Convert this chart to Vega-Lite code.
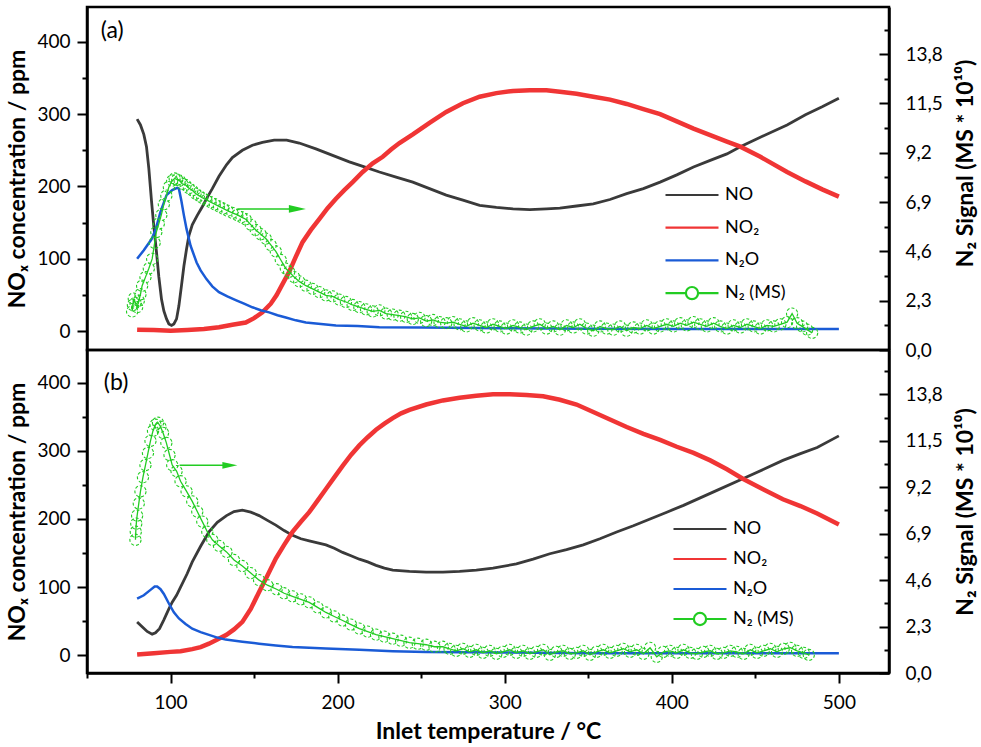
{
  "$schema": "https://vega.github.io/schema/vega-lite/v6.json",
  "padding": {"left": 5, "top": 5, "right": 5, "bottom": 5},
  "spacing": 0,
  "bounds": "flush",
  "config": {
    "font": "Lato",
    "view": {"stroke": "black", "strokeWidth": 2.5},
    "axis": {"grid": false, "domainColor": "black", "domainWidth": 2.5, "tickColor": "black", "tickWidth": 2, "labelFont": "Lato", "labelFontSize": 19, "labelColor": "black", "titleFont": "Lato", "titleFontSize": 23, "titleFontWeight": "bold", "titleColor": "black"}
  },
  "resolve": {"scale": {"color": "independent"}, "legend": {"color": "independent"}},
  "datasets": {
    "topLines": [
      {"T":80,"v":293,"s":"NO"},{"T":82,"v":285,"s":"NO"},{"T":84,"v":272,"s":"NO"},{"T":85.6,"v":255,"s":"NO"},{"T":87,"v":225,"s":"NO"},{"T":88.6,"v":180,"s":"NO"},{"T":90,"v":145,"s":"NO"},{"T":91.6,"v":109,"s":"NO"},{"T":93,"v":75,"s":"NO"},{"T":94.6,"v":44,"s":"NO"},{"T":96,"v":28,"s":"NO"},{"T":97.6,"v":17,"s":"NO"},{"T":99,"v":10,"s":"NO"},{"T":100.6,"v":8,"s":"NO"},{"T":102,"v":10,"s":"NO"},{"T":103.6,"v":17,"s":"NO"},{"T":105,"v":35,"s":"NO"},{"T":106.6,"v":64,"s":"NO"},{"T":108,"v":90,"s":"NO"},{"T":109.6,"v":114,"s":"NO"},{"T":111,"v":132,"s":"NO"},{"T":113,"v":147,"s":"NO"},{"T":116,"v":160,"s":"NO"},{"T":119,"v":172,"s":"NO"},{"T":122,"v":185,"s":"NO"},{"T":125,"v":197,"s":"NO"},{"T":129,"v":214,"s":"NO"},{"T":133.5,"v":230,"s":"NO"},{"T":137,"v":240,"s":"NO"},{"T":143,"v":250,"s":"NO"},{"T":149,"v":257,"s":"NO"},{"T":155,"v":261,"s":"NO"},{"T":162,"v":264,"s":"NO"},{"T":169.5,"v":264,"s":"NO"},{"T":177,"v":260,"s":"NO"},{"T":187,"v":252,"s":"NO"},{"T":197,"v":243,"s":"NO"},{"T":207,"v":234,"s":"NO"},{"T":216,"v":227,"s":"NO"},{"T":225,"v":220,"s":"NO"},{"T":235,"v":213,"s":"NO"},{"T":245,"v":206,"s":"NO"},{"T":255,"v":197,"s":"NO"},{"T":265,"v":188,"s":"NO"},{"T":275,"v":181,"s":"NO"},{"T":285,"v":174,"s":"NO"},{"T":295,"v":171,"s":"NO"},{"T":305,"v":169,"s":"NO"},{"T":315,"v":168,"s":"NO"},{"T":325,"v":169,"s":"NO"},{"T":333,"v":170,"s":"NO"},{"T":343,"v":173,"s":"NO"},{"T":353,"v":176,"s":"NO"},{"T":363,"v":182,"s":"NO"},{"T":373,"v":190,"s":"NO"},{"T":383,"v":197,"s":"NO"},{"T":393,"v":206,"s":"NO"},{"T":403,"v":216,"s":"NO"},{"T":413,"v":227,"s":"NO"},{"T":423,"v":236,"s":"NO"},{"T":433,"v":245,"s":"NO"},{"T":441,"v":255,"s":"NO"},{"T":453,"v":268,"s":"NO"},{"T":469,"v":285,"s":"NO"},{"T":480,"v":299,"s":"NO"},{"T":490,"v":310,"s":"NO"},{"T":500,"v":322,"s":"NO"},
      {"T":80,"v":2,"s":"NO₂"},{"T":90,"v":1.5,"s":"NO₂"},{"T":100,"v":0.5,"s":"NO₂"},{"T":110,"v":1.5,"s":"NO₂"},{"T":120,"v":3,"s":"NO₂"},{"T":129,"v":5.5,"s":"NO₂"},{"T":137,"v":9,"s":"NO₂"},{"T":145,"v":12,"s":"NO₂"},{"T":150,"v":18,"s":"NO₂"},{"T":155,"v":26,"s":"NO₂"},{"T":160,"v":38,"s":"NO₂"},{"T":163.5,"v":50,"s":"NO₂"},{"T":167,"v":65,"s":"NO₂"},{"T":171,"v":82,"s":"NO₂"},{"T":175,"v":103,"s":"NO₂"},{"T":179,"v":123,"s":"NO₂"},{"T":184,"v":140,"s":"NO₂"},{"T":189,"v":155,"s":"NO₂"},{"T":194,"v":170,"s":"NO₂"},{"T":199,"v":183,"s":"NO₂"},{"T":204,"v":195,"s":"NO₂"},{"T":209,"v":206,"s":"NO₂"},{"T":215,"v":220,"s":"NO₂"},{"T":221,"v":232,"s":"NO₂"},{"T":227,"v":241,"s":"NO₂"},{"T":232,"v":251,"s":"NO₂"},{"T":237,"v":260,"s":"NO₂"},{"T":245,"v":272,"s":"NO₂"},{"T":255,"v":288,"s":"NO₂"},{"T":265,"v":303,"s":"NO₂"},{"T":275,"v":315,"s":"NO₂"},{"T":285,"v":324,"s":"NO₂"},{"T":295,"v":329,"s":"NO₂"},{"T":305,"v":332,"s":"NO₂"},{"T":315,"v":333,"s":"NO₂"},{"T":325,"v":333,"s":"NO₂"},{"T":333,"v":331,"s":"NO₂"},{"T":343,"v":328,"s":"NO₂"},{"T":353,"v":324,"s":"NO₂"},{"T":363,"v":320,"s":"NO₂"},{"T":373,"v":314,"s":"NO₂"},{"T":383,"v":307,"s":"NO₂"},{"T":393,"v":300,"s":"NO₂"},{"T":403,"v":290,"s":"NO₂"},{"T":413,"v":280,"s":"NO₂"},{"T":423,"v":271,"s":"NO₂"},{"T":433,"v":262,"s":"NO₂"},{"T":441,"v":255,"s":"NO₂"},{"T":453,"v":241,"s":"NO₂"},{"T":469,"v":220,"s":"NO₂"},{"T":480,"v":207,"s":"NO₂"},{"T":490,"v":196,"s":"NO₂"},{"T":500,"v":186,"s":"NO₂"},
      {"T":80,"v":100,"s":"N₂O"},{"T":84,"v":112,"s":"N₂O"},{"T":88.6,"v":127,"s":"N₂O"},{"T":91,"v":140,"s":"N₂O"},{"T":94,"v":165,"s":"N₂O"},{"T":97.6,"v":188,"s":"N₂O"},{"T":101,"v":195,"s":"N₂O"},{"T":104,"v":198,"s":"N₂O"},{"T":105,"v":197,"s":"N₂O"},{"T":106.5,"v":180,"s":"N₂O"},{"T":108,"v":160,"s":"N₂O"},{"T":109.6,"v":141,"s":"N₂O"},{"T":112,"v":118,"s":"N₂O"},{"T":115.6,"v":95,"s":"N₂O"},{"T":118,"v":84,"s":"N₂O"},{"T":121.5,"v":72,"s":"N₂O"},{"T":125,"v":62,"s":"N₂O"},{"T":129,"v":54,"s":"N₂O"},{"T":134,"v":48,"s":"N₂O"},{"T":139,"v":43,"s":"N₂O"},{"T":144,"v":38,"s":"N₂O"},{"T":149,"v":33,"s":"N₂O"},{"T":154,"v":29,"s":"N₂O"},{"T":159,"v":26,"s":"N₂O"},{"T":164,"v":22,"s":"N₂O"},{"T":169,"v":19,"s":"N₂O"},{"T":175,"v":15,"s":"N₂O"},{"T":181,"v":12,"s":"N₂O"},{"T":190,"v":10,"s":"N₂O"},{"T":199,"v":8,"s":"N₂O"},{"T":212,"v":7,"s":"N₂O"},{"T":225,"v":5.5,"s":"N₂O"},{"T":250,"v":5,"s":"N₂O"},{"T":300,"v":4,"s":"N₂O"},{"T":350,"v":3.5,"s":"N₂O"},{"T":400,"v":3,"s":"N₂O"},{"T":450,"v":3,"s":"N₂O"},{"T":500,"v":3,"s":"N₂O"}
    ],
    "topN2": [
      {"T":77,"v":1.8},{"T":77.5,"v":2.1},{"T":78,"v":2.4},{"T":79,"v":2.2},{"T":80,"v":2.0},{"T":81,"v":2.3},{"T":82,"v":2.6},{"T":83,"v":3.0},{"T":85,"v":3.4},{"T":87,"v":3.8},{"T":89,"v":4.25},{"T":90.5,"v":5.0},{"T":91.5,"v":5.5},{"T":93,"v":5.9},{"T":94.5,"v":6.3},{"T":96,"v":6.8},{"T":97.5,"v":7.2},{"T":99,"v":7.6},{"T":101,"v":7.9},{"T":102.5,"v":8.0},{"T":104,"v":7.95},{"T":105.5,"v":7.9},{"T":107,"v":7.75},{"T":109,"v":7.7},{"T":111,"v":7.55},{"T":113,"v":7.45},{"T":115,"v":7.3},{"T":117,"v":7.2},{"T":119,"v":7.1},{"T":121.5,"v":7.0},{"T":124,"v":6.9},{"T":126.5,"v":6.8},{"T":129,"v":6.7},{"T":131.5,"v":6.6},{"T":134,"v":6.5},{"T":137,"v":6.4},{"T":140,"v":6.3},{"T":142.5,"v":6.2},{"T":145,"v":6.1},{"T":148,"v":5.85},{"T":151,"v":5.6},{"T":154,"v":5.4},{"T":157,"v":5.2},{"T":160,"v":4.9},{"T":163,"v":4.6},{"T":166,"v":4.2},{"T":169,"v":3.8},{"T":171,"v":3.65},{"T":174,"v":3.4},{"T":177,"v":3.2},{"T":181,"v":3.0},{"T":185,"v":2.85},{"T":189,"v":2.7},{"T":193,"v":2.55},{"T":197,"v":2.5},{"T":201,"v":2.35},{"T":205,"v":2.24},{"T":209,"v":2.1},{"T":213,"v":2.0},{"T":217,"v":1.9},{"T":221,"v":1.8},{"T":225,"v":1.85},{"T":229,"v":1.7},{"T":233,"v":1.65},{"T":237,"v":1.6},{"T":241,"v":1.55},{"T":245,"v":1.45},{"T":249,"v":1.5},{"T":253,"v":1.35},{"T":257,"v":1.4},{"T":261,"v":1.3},{"T":265,"v":1.25},{"T":269,"v":1.3},{"T":273,"v":1.2},{"T":277,"v":1.1},{"T":281,"v":1.25},{"T":285,"v":1.15},{"T":289,"v":1.05},{"T":293,"v":1.2},{"T":297,"v":1.1},{"T":301,"v":1.0},{"T":305,"v":1.15},{"T":309,"v":1.05},{"T":313,"v":0.95},{"T":317,"v":1.1},{"T":321,"v":1.2},{"T":325,"v":1.0},{"T":329,"v":1.1},{"T":333,"v":0.95},{"T":337,"v":1.15},{"T":341,"v":1.05},{"T":345,"v":1.2},{"T":349,"v":1.0},{"T":353,"v":0.9},{"T":357,"v":1.1},{"T":361,"v":1.0},{"T":365,"v":0.95},{"T":369,"v":1.1},{"T":373,"v":0.9},{"T":377,"v":1.05},{"T":381,"v":1.0},{"T":385,"v":1.15},{"T":389,"v":1.0},{"T":393,"v":1.1},{"T":397,"v":1.2},{"T":401,"v":1.1},{"T":405,"v":1.25},{"T":409,"v":1.15},{"T":413,"v":1.3},{"T":417,"v":1.2},{"T":421,"v":1.1},{"T":425,"v":1.25},{"T":429,"v":1.1},{"T":433,"v":1.0},{"T":437,"v":1.15},{"T":441,"v":1.05},{"T":445,"v":1.2},{"T":449,"v":1.1},{"T":453,"v":1.0},{"T":457,"v":1.15},{"T":461,"v":1.1},{"T":465,"v":1.2},{"T":469,"v":1.3},{"T":472,"v":1.7},{"T":475,"v":1.25},{"T":478,"v":1.1},{"T":481,"v":0.95},{"T":484,"v":0.8}
    ],
    "botLines": [
      {"T":80,"v":49,"s":"NO"},{"T":83,"v":42,"s":"NO"},{"T":86,"v":35,"s":"NO"},{"T":89,"v":31,"s":"NO"},{"T":91,"v":33,"s":"NO"},{"T":93.4,"v":39,"s":"NO"},{"T":96,"v":52,"s":"NO"},{"T":99,"v":68,"s":"NO"},{"T":101,"v":78,"s":"NO"},{"T":103.6,"v":88,"s":"NO"},{"T":106,"v":100,"s":"NO"},{"T":110,"v":120,"s":"NO"},{"T":113,"v":137,"s":"NO"},{"T":118,"v":160,"s":"NO"},{"T":123,"v":181,"s":"NO"},{"T":128,"v":195,"s":"NO"},{"T":133.5,"v":205,"s":"NO"},{"T":138,"v":211,"s":"NO"},{"T":143,"v":213,"s":"NO"},{"T":148,"v":210,"s":"NO"},{"T":153,"v":205,"s":"NO"},{"T":158,"v":198,"s":"NO"},{"T":163,"v":191,"s":"NO"},{"T":168,"v":183,"s":"NO"},{"T":173,"v":176,"s":"NO"},{"T":178,"v":171,"s":"NO"},{"T":183,"v":168,"s":"NO"},{"T":188,"v":165,"s":"NO"},{"T":193,"v":162,"s":"NO"},{"T":198,"v":157,"s":"NO"},{"T":203,"v":151,"s":"NO"},{"T":208,"v":146,"s":"NO"},{"T":213,"v":141,"s":"NO"},{"T":218,"v":137,"s":"NO"},{"T":223,"v":132,"s":"NO"},{"T":228,"v":128,"s":"NO"},{"T":233,"v":125,"s":"NO"},{"T":243,"v":123,"s":"NO"},{"T":253,"v":122,"s":"NO"},{"T":263,"v":122,"s":"NO"},{"T":273,"v":123,"s":"NO"},{"T":283,"v":125,"s":"NO"},{"T":293,"v":128,"s":"NO"},{"T":307,"v":134,"s":"NO"},{"T":317,"v":141,"s":"NO"},{"T":327,"v":149,"s":"NO"},{"T":337,"v":155,"s":"NO"},{"T":347,"v":162,"s":"NO"},{"T":357,"v":171,"s":"NO"},{"T":367,"v":181,"s":"NO"},{"T":377,"v":190,"s":"NO"},{"T":387,"v":200,"s":"NO"},{"T":397,"v":210,"s":"NO"},{"T":407,"v":220,"s":"NO"},{"T":417,"v":231,"s":"NO"},{"T":427,"v":242,"s":"NO"},{"T":442.5,"v":259,"s":"NO"},{"T":455,"v":273,"s":"NO"},{"T":466.5,"v":286,"s":"NO"},{"T":477,"v":296,"s":"NO"},{"T":487,"v":305,"s":"NO"},{"T":500,"v":322,"s":"NO"},
      {"T":80,"v":1,"s":"NO₂"},{"T":90,"v":3,"s":"NO₂"},{"T":100,"v":5,"s":"NO₂"},{"T":106,"v":6,"s":"NO₂"},{"T":113,"v":9,"s":"NO₂"},{"T":118,"v":12,"s":"NO₂"},{"T":123,"v":17,"s":"NO₂"},{"T":128,"v":23,"s":"NO₂"},{"T":133.5,"v":30,"s":"NO₂"},{"T":138,"v":38,"s":"NO₂"},{"T":143,"v":49,"s":"NO₂"},{"T":148,"v":68,"s":"NO₂"},{"T":153,"v":93,"s":"NO₂"},{"T":158,"v":117,"s":"NO₂"},{"T":163,"v":142,"s":"NO₂"},{"T":168,"v":162,"s":"NO₂"},{"T":173,"v":181,"s":"NO₂"},{"T":178,"v":196,"s":"NO₂"},{"T":183,"v":210,"s":"NO₂"},{"T":188,"v":227,"s":"NO₂"},{"T":193,"v":244,"s":"NO₂"},{"T":198,"v":261,"s":"NO₂"},{"T":203,"v":278,"s":"NO₂"},{"T":208,"v":294,"s":"NO₂"},{"T":213,"v":308,"s":"NO₂"},{"T":218,"v":320,"s":"NO₂"},{"T":223,"v":331,"s":"NO₂"},{"T":228,"v":340,"s":"NO₂"},{"T":233,"v":348,"s":"NO₂"},{"T":238,"v":355,"s":"NO₂"},{"T":243,"v":360,"s":"NO₂"},{"T":253,"v":368,"s":"NO₂"},{"T":263,"v":374,"s":"NO₂"},{"T":273,"v":378,"s":"NO₂"},{"T":283,"v":381,"s":"NO₂"},{"T":293,"v":383,"s":"NO₂"},{"T":303,"v":383,"s":"NO₂"},{"T":313,"v":382,"s":"NO₂"},{"T":323,"v":380,"s":"NO₂"},{"T":333,"v":375,"s":"NO₂"},{"T":343,"v":368,"s":"NO₂"},{"T":353,"v":357,"s":"NO₂"},{"T":363,"v":346,"s":"NO₂"},{"T":373,"v":335,"s":"NO₂"},{"T":383,"v":325,"s":"NO₂"},{"T":393,"v":316,"s":"NO₂"},{"T":403,"v":306,"s":"NO₂"},{"T":413,"v":297,"s":"NO₂"},{"T":423,"v":286,"s":"NO₂"},{"T":433,"v":273,"s":"NO₂"},{"T":442.5,"v":259,"s":"NO₂"},{"T":452,"v":247,"s":"NO₂"},{"T":466.5,"v":229,"s":"NO₂"},{"T":477,"v":219,"s":"NO₂"},{"T":487,"v":208,"s":"NO₂"},{"T":500,"v":192,"s":"NO₂"},
      {"T":80,"v":83,"s":"N₂O"},{"T":84,"v":88,"s":"N₂O"},{"T":88,"v":96,"s":"N₂O"},{"T":90.5,"v":101,"s":"N₂O"},{"T":92,"v":101,"s":"N₂O"},{"T":94,"v":97,"s":"N₂O"},{"T":96,"v":90,"s":"N₂O"},{"T":99,"v":76,"s":"N₂O"},{"T":102,"v":63,"s":"N₂O"},{"T":105,"v":54,"s":"N₂O"},{"T":109,"v":46,"s":"N₂O"},{"T":113,"v":39,"s":"N₂O"},{"T":118,"v":34,"s":"N₂O"},{"T":123,"v":30,"s":"N₂O"},{"T":128,"v":26,"s":"N₂O"},{"T":133,"v":23,"s":"N₂O"},{"T":143,"v":20,"s":"N₂O"},{"T":153,"v":17,"s":"N₂O"},{"T":163,"v":14.5,"s":"N₂O"},{"T":173,"v":12,"s":"N₂O"},{"T":193,"v":10,"s":"N₂O"},{"T":213,"v":8,"s":"N₂O"},{"T":233,"v":6,"s":"N₂O"},{"T":253,"v":5,"s":"N₂O"},{"T":300,"v":4,"s":"N₂O"},{"T":350,"v":3,"s":"N₂O"},{"T":400,"v":3,"s":"N₂O"},{"T":450,"v":3,"s":"N₂O"},{"T":500,"v":3,"s":"N₂O"}
    ],
    "botN2": [
      {"T":79,"v":6.6},{"T":79.2,"v":7.0},{"T":79.5,"v":7.4},{"T":80,"v":7.8},{"T":81,"v":8.4},{"T":82,"v":9.0},{"T":83.5,"v":9.7},{"T":85,"v":10.3},{"T":86.5,"v":10.9},{"T":88,"v":11.5},{"T":89.5,"v":12.0},{"T":91,"v":12.3},{"T":92.5,"v":12.4},{"T":94,"v":12.2},{"T":95.5,"v":11.9},{"T":97.5,"v":11.4},{"T":99.4,"v":10.8},{"T":101,"v":10.3},{"T":103.6,"v":10.0},{"T":106,"v":9.5},{"T":109.6,"v":9.0},{"T":113,"v":8.5},{"T":116,"v":8.0},{"T":119,"v":7.5},{"T":122,"v":7.0},{"T":125,"v":6.6},{"T":129,"v":6.3},{"T":133.5,"v":6.0},{"T":138,"v":5.6},{"T":143,"v":5.3},{"T":148,"v":4.95},{"T":153,"v":4.6},{"T":158,"v":4.35},{"T":163.5,"v":4.15},{"T":168,"v":3.95},{"T":173,"v":3.8},{"T":178,"v":3.65},{"T":183,"v":3.5},{"T":188,"v":3.25},{"T":193,"v":3.0},{"T":198,"v":2.8},{"T":203,"v":2.6},{"T":208,"v":2.4},{"T":213,"v":2.2},{"T":218,"v":2.05},{"T":223,"v":1.9},{"T":228,"v":1.8},{"T":233,"v":1.7},{"T":238,"v":1.6},{"T":243,"v":1.5},{"T":248,"v":1.45},{"T":253,"v":1.4},{"T":258,"v":1.3},{"T":263,"v":1.3},{"T":267,"v":1.2},{"T":271,"v":1.1},{"T":275,"v":1.2},{"T":279,"v":1.05},{"T":283,"v":1.15},{"T":287,"v":1.0},{"T":291,"v":1.1},{"T":295,"v":0.95},{"T":299,"v":1.05},{"T":303,"v":1.15},{"T":307,"v":1.0},{"T":311,"v":1.1},{"T":315,"v":0.95},{"T":319,"v":1.05},{"T":323,"v":1.15},{"T":327,"v":0.9},{"T":331,"v":1.05},{"T":335,"v":1.1},{"T":339,"v":0.95},{"T":343,"v":1.0},{"T":347,"v":1.1},{"T":351,"v":0.9},{"T":355,"v":1.05},{"T":359,"v":1.15},{"T":363,"v":1.0},{"T":367,"v":1.1},{"T":371,"v":1.2},{"T":375,"v":1.05},{"T":379,"v":1.15},{"T":383,"v":0.95},{"T":387,"v":1.25},{"T":391,"v":0.8},{"T":395,"v":1.05},{"T":399,"v":1.1},{"T":403,"v":1.0},{"T":407,"v":1.15},{"T":411,"v":1.0},{"T":415,"v":0.95},{"T":419,"v":1.05},{"T":423,"v":1.1},{"T":427,"v":0.95},{"T":431,"v":1.0},{"T":435,"v":1.1},{"T":439,"v":1.05},{"T":443,"v":0.95},{"T":447,"v":1.15},{"T":451,"v":1.0},{"T":455,"v":1.1},{"T":459,"v":1.2},{"T":463,"v":1.05},{"T":467,"v":1.2},{"T":471,"v":1.25},{"T":475,"v":1.1},{"T":479,"v":1.0},{"T":482,"v":0.9}
    ]
  },
  "vconcat": [
    {
      "width": 802,
      "height": 343,
      "layer": [
        {
          "layer": [
            {
              "data": {"name": "topLines"},
              "transform": [{"filter": "datum.s === 'NO'"}],
              "mark": {"type": "line", "strokeWidth": 2.8},
              "encoding": {
                "x": {"field": "T", "type": "quantitative", "scale": {"domain": [50, 530], "nice": false, "zero": false}, "axis": null},
                "y": {"field": "v", "type": "quantitative", "scale": {"domain": [-26, 448], "nice": false, "zero": false}, "axis": {"orient": "left", "title": "NOₓ concentration / ppm", "values": [0, 50, 100, 150, 200, 250, 300, 350, 400], "labelExpr": "datum.value % 100 === 0 ? datum.label : ''", "tickSize": {"condition": {"test": "datum.value % 100 !== 0", "value": 5}, "value": 10}, "labelPadding": 7, "titlePadding": 7}},
                "color": {"field": "s", "type": "nominal", "scale": {"domain": ["NO", "NO₂", "N₂O", "N₂ (MS)"], "range": ["#3a3a3a", "#f03535", "#1a5bd6", "#22cc22"]},
                  "legend": {"orient": "none", "legendX": 577, "legendY": 178, "title": null, "symbolType": "stroke", "symbolSize": 2809, "symbolStrokeWidth": 2.2, "clipHeight": 20, "rowPadding": 12.7, "labelFont": "Lato", "labelFontSize": 18, "labelColor": "black", "labelOffset": 5, "padding": 0,
                    "encode": {"symbols": {"update": {"shape": {"signal": "datum.value === 'N₂ (MS)' ? 'M-1,0H-0.23M0.23,0H1M0.23,0A0.23,0.23 0 1 1 -0.23,0A0.23,0.23 0 1 1 0.23,0' : 'stroke'"}}}}}}
              }
            },
            {
              "data": {"name": "topLines"},
              "transform": [{"filter": "datum.s === 'NO₂'"}],
              "mark": {"type": "line", "strokeWidth": 4.5},
              "encoding": {
                "x": {"field": "T", "type": "quantitative", "scale": {"domain": [50, 530], "nice": false, "zero": false}, "axis": null},
                "y": {"field": "v", "type": "quantitative", "scale": {"domain": [-26, 448], "nice": false, "zero": false}, "axis": {"orient": "left", "title": "NOₓ concentration / ppm", "values": [0, 50, 100, 150, 200, 250, 300, 350, 400], "labelExpr": "datum.value % 100 === 0 ? datum.label : ''", "tickSize": {"condition": {"test": "datum.value % 100 !== 0", "value": 5}, "value": 10}, "labelPadding": 7, "titlePadding": 7}},
                "color": {"field": "s", "type": "nominal"}
              }
            },
            {
              "data": {"name": "topLines"},
              "transform": [{"filter": "datum.s === 'N₂O'"}],
              "mark": {"type": "line", "strokeWidth": 2.5},
              "encoding": {
                "x": {"field": "T", "type": "quantitative", "scale": {"domain": [50, 530], "nice": false, "zero": false}, "axis": null},
                "y": {"field": "v", "type": "quantitative", "scale": {"domain": [-26, 448], "nice": false, "zero": false}, "axis": {"orient": "left", "title": "NOₓ concentration / ppm", "values": [0, 50, 100, 150, 200, 250, 300, 350, 400], "labelExpr": "datum.value % 100 === 0 ? datum.label : ''", "tickSize": {"condition": {"test": "datum.value % 100 !== 0", "value": 5}, "value": 10}, "labelPadding": 7, "titlePadding": 7}},
                "color": {"field": "s", "type": "nominal"}
              }
            },
            {
              "data": {"values": [{"T": 65.1, "v": 415, "label": "(a)"}]},
              "mark": {"type": "text", "fontSize": 23, "font": "Lato", "color": "black"},
              "encoding": {
                "x": {"field": "T", "type": "quantitative", "scale": {"domain": [50, 530], "nice": false, "zero": false}, "axis": null},
                "y": {"field": "v", "type": "quantitative", "scale": {"domain": [-26, 448], "nice": false, "zero": false}, "axis": {"orient": "left", "title": "NOₓ concentration / ppm", "values": [0, 50, 100, 150, 200, 250, 300, 350, 400], "labelExpr": "datum.value % 100 === 0 ? datum.label : ''", "tickSize": {"condition": {"test": "datum.value % 100 !== 0", "value": 5}, "value": 10}, "labelPadding": 7, "titlePadding": 7}},
                "text": {"field": "label"}
              }
            }
          ]
        },
        {
          "layer": [
            {
              "data": {"name": "topN2"},
              "transform": [{"calculate": "'N₂ (MS)'", "as": "s"}],
              "mark": {"type": "line", "strokeWidth": 1.3},
              "encoding": {
                "x": {"field": "T", "type": "quantitative", "scale": {"domain": [50, 530], "nice": false, "zero": false}, "axis": null},
                "y": {"field": "v", "type": "quantitative", "scale": {"domain": [0, 16], "nice": false, "zero": false}, "axis": {"orient": "right", "title": "N₂ Signal (MS * 10¹⁰)", "values": [0, 1.15, 2.3, 3.45, 4.6, 5.75, 6.9, 8.05, 9.2, 10.35, 11.5, 12.65, 13.8, 14.95], "labelExpr": "abs(datum.value/2.3 - round(datum.value/2.3)) < 0.01 ? replace(format(datum.value, '.1f'), '.', ',') : ''", "tickSize": {"condition": {"test": "abs(datum.value/2.3 - round(datum.value/2.3)) > 0.1", "value": -5}, "value": -10}, "labelPadding": 26, "titlePadding": 12, "titleAngle": 270, "titleBaseline": "top", "titleY": 156}},
                "color": {"field": "s", "type": "nominal"}
              }
            },
            {
              "data": {"name": "topN2"},
              "transform": [{"calculate": "'N₂ (MS)'", "as": "s"}],
              "mark": {"type": "point", "filled": false, "size": 125, "strokeWidth": 1.1, "opacity": 1, "strokeDash": [3, 2]},
              "encoding": {
                "x": {"field": "T", "type": "quantitative", "scale": {"domain": [50, 530], "nice": false, "zero": false}, "axis": null},
                "y": {"field": "v", "type": "quantitative", "scale": {"domain": [0, 16], "nice": false, "zero": false}, "axis": {"orient": "right", "title": "N₂ Signal (MS * 10¹⁰)", "values": [0, 1.15, 2.3, 3.45, 4.6, 5.75, 6.9, 8.05, 9.2, 10.35, 11.5, 12.65, 13.8, 14.95], "labelExpr": "abs(datum.value/2.3 - round(datum.value/2.3)) < 0.01 ? replace(format(datum.value, '.1f'), '.', ',') : ''", "tickSize": {"condition": {"test": "abs(datum.value/2.3 - round(datum.value/2.3)) > 0.1", "value": -5}, "value": -10}, "labelPadding": 26, "titlePadding": 12, "titleAngle": 270, "titleBaseline": "top", "titleY": 156}},
                "color": {"field": "s", "type": "nominal"}
              }
            },
            {
              "data": {"values": [{"T": 140, "v": 6.58}, {"T": 176, "v": 6.58}]},
              "mark": {"type": "line", "strokeWidth": 1.5, "color": "#22cc22"},
              "encoding": {
                "x": {"field": "T", "type": "quantitative", "scale": {"domain": [50, 530], "nice": false, "zero": false}, "axis": null},
                "y": {"field": "v", "type": "quantitative", "scale": {"domain": [0, 16], "nice": false, "zero": false}, "axis": {"orient": "right", "title": "N₂ Signal (MS * 10¹⁰)", "values": [0, 1.15, 2.3, 3.45, 4.6, 5.75, 6.9, 8.05, 9.2, 10.35, 11.5, 12.65, 13.8, 14.95], "labelExpr": "abs(datum.value/2.3 - round(datum.value/2.3)) < 0.01 ? replace(format(datum.value, '.1f'), '.', ',') : ''", "tickSize": {"condition": {"test": "abs(datum.value/2.3 - round(datum.value/2.3)) > 0.1", "value": -5}, "value": -10}, "labelPadding": 26, "titlePadding": 12, "titleAngle": 270, "titleBaseline": "top", "titleY": 156}}
              }
            },
            {
              "data": {"values": [{"T": 175.9, "v": 6.58}]},
              "mark": {"type": "point", "shape": "M-1,-0.45L1,0L-1,0.45Z", "filled": true, "size": 289, "color": "#22cc22", "opacity": 1},
              "encoding": {
                "x": {"field": "T", "type": "quantitative", "scale": {"domain": [50, 530], "nice": false, "zero": false}, "axis": null},
                "y": {"field": "v", "type": "quantitative", "scale": {"domain": [0, 16], "nice": false, "zero": false}, "axis": {"orient": "right", "title": "N₂ Signal (MS * 10¹⁰)", "values": [0, 1.15, 2.3, 3.45, 4.6, 5.75, 6.9, 8.05, 9.2, 10.35, 11.5, 12.65, 13.8, 14.95], "labelExpr": "abs(datum.value/2.3 - round(datum.value/2.3)) < 0.01 ? replace(format(datum.value, '.1f'), '.', ',') : ''", "tickSize": {"condition": {"test": "abs(datum.value/2.3 - round(datum.value/2.3)) > 0.1", "value": -5}, "value": -10}, "labelPadding": 26, "titlePadding": 12, "titleAngle": 270, "titleBaseline": "top", "titleY": 156}}
              }
            }
          ]
        }
      ],
      "resolve": {"scale": {"y": "independent"}}
    },
    {
      "width": 802,
      "height": 323,
      "layer": [
        {
          "layer": [
            {
              "data": {"name": "botLines"},
              "transform": [{"filter": "datum.s === 'NO'"}],
              "mark": {"type": "line", "strokeWidth": 2.8},
              "encoding": {
                "x": {"field": "T", "type": "quantitative", "scale": {"domain": [50, 530], "nice": false, "zero": false}, "axis": {"title": "Inlet temperature / °C", "values": [50, 100, 150, 200, 250, 300, 350, 400, 450, 500], "labelExpr": "datum.value % 100 === 0 ? datum.label : ''", "tickSize": {"condition": {"test": "datum.value % 100 !== 0", "value": 5}, "value": 10}, "labelPadding": 10, "titlePadding": 8}},
                "y": {"field": "v", "type": "quantitative", "scale": {"domain": [-26, 448], "nice": false, "zero": false}, "axis": {"orient": "left", "title": "NOₓ concentration / ppm", "values": [0, 50, 100, 150, 200, 250, 300, 350, 400], "labelExpr": "datum.value % 100 === 0 ? datum.label : ''", "tickSize": {"condition": {"test": "datum.value % 100 !== 0", "value": 5}, "value": 10}, "labelPadding": 7, "titlePadding": 7}},
                "color": {"field": "s", "type": "nominal", "scale": {"domain": ["NO", "NO₂", "N₂O", "N₂ (MS)"], "range": ["#3a3a3a", "#f03535", "#1a5bd6", "#22cc22"]},
                  "legend": {"orient": "none", "legendX": 585, "legendY": 169, "title": null, "symbolType": "stroke", "symbolSize": 2809, "symbolStrokeWidth": 2.2, "clipHeight": 20, "rowPadding": 10, "labelFont": "Lato", "labelFontSize": 18, "labelColor": "black", "labelOffset": 5, "padding": 0,
                    "encode": {"symbols": {"update": {"shape": {"signal": "datum.value === 'N₂ (MS)' ? 'M-1,0H-0.23M0.23,0H1M0.23,0A0.23,0.23 0 1 1 -0.23,0A0.23,0.23 0 1 1 0.23,0' : 'stroke'"}}}}}}
              }
            },
            {
              "data": {"name": "botLines"},
              "transform": [{"filter": "datum.s === 'NO₂'"}],
              "mark": {"type": "line", "strokeWidth": 4.5},
              "encoding": {
                "x": {"field": "T", "type": "quantitative", "scale": {"domain": [50, 530], "nice": false, "zero": false}, "axis": {"title": "Inlet temperature / °C", "values": [50, 100, 150, 200, 250, 300, 350, 400, 450, 500], "labelExpr": "datum.value % 100 === 0 ? datum.label : ''", "tickSize": {"condition": {"test": "datum.value % 100 !== 0", "value": 5}, "value": 10}, "labelPadding": 10, "titlePadding": 8}},
                "y": {"field": "v", "type": "quantitative", "scale": {"domain": [-26, 448], "nice": false, "zero": false}, "axis": {"orient": "left", "title": "NOₓ concentration / ppm", "values": [0, 50, 100, 150, 200, 250, 300, 350, 400], "labelExpr": "datum.value % 100 === 0 ? datum.label : ''", "tickSize": {"condition": {"test": "datum.value % 100 !== 0", "value": 5}, "value": 10}, "labelPadding": 7, "titlePadding": 7}},
                "color": {"field": "s", "type": "nominal"}
              }
            },
            {
              "data": {"name": "botLines"},
              "transform": [{"filter": "datum.s === 'N₂O'"}],
              "mark": {"type": "line", "strokeWidth": 2.5},
              "encoding": {
                "x": {"field": "T", "type": "quantitative", "scale": {"domain": [50, 530], "nice": false, "zero": false}, "axis": {"title": "Inlet temperature / °C", "values": [50, 100, 150, 200, 250, 300, 350, 400, 450, 500], "labelExpr": "datum.value % 100 === 0 ? datum.label : ''", "tickSize": {"condition": {"test": "datum.value % 100 !== 0", "value": 5}, "value": 10}, "labelPadding": 10, "titlePadding": 8}},
                "y": {"field": "v", "type": "quantitative", "scale": {"domain": [-26, 448], "nice": false, "zero": false}, "axis": {"orient": "left", "title": "NOₓ concentration / ppm", "values": [0, 50, 100, 150, 200, 250, 300, 350, 400], "labelExpr": "datum.value % 100 === 0 ? datum.label : ''", "tickSize": {"condition": {"test": "datum.value % 100 !== 0", "value": 5}, "value": 10}, "labelPadding": 7, "titlePadding": 7}},
                "color": {"field": "s", "type": "nominal"}
              }
            },
            {
              "data": {"values": [{"T": 67.4, "v": 399, "label": "(b)"}]},
              "mark": {"type": "text", "fontSize": 23, "font": "Lato", "color": "black"},
              "encoding": {
                "x": {"field": "T", "type": "quantitative", "scale": {"domain": [50, 530], "nice": false, "zero": false}, "axis": {"title": "Inlet temperature / °C", "values": [50, 100, 150, 200, 250, 300, 350, 400, 450, 500], "labelExpr": "datum.value % 100 === 0 ? datum.label : ''", "tickSize": {"condition": {"test": "datum.value % 100 !== 0", "value": 5}, "value": 10}, "labelPadding": 10, "titlePadding": 8}},
                "y": {"field": "v", "type": "quantitative", "scale": {"domain": [-26, 448], "nice": false, "zero": false}, "axis": {"orient": "left", "title": "NOₓ concentration / ppm", "values": [0, 50, 100, 150, 200, 250, 300, 350, 400], "labelExpr": "datum.value % 100 === 0 ? datum.label : ''", "tickSize": {"condition": {"test": "datum.value % 100 !== 0", "value": 5}, "value": 10}, "labelPadding": 7, "titlePadding": 7}},
                "text": {"field": "label"}
              }
            }
          ]
        },
        {
          "layer": [
            {
              "data": {"name": "botN2"},
              "transform": [{"calculate": "'N₂ (MS)'", "as": "s"}],
              "mark": {"type": "line", "strokeWidth": 1.3},
              "encoding": {
                "x": {"field": "T", "type": "quantitative", "scale": {"domain": [50, 530], "nice": false, "zero": false}, "axis": {"title": "Inlet temperature / °C", "values": [50, 100, 150, 200, 250, 300, 350, 400, 450, 500], "labelExpr": "datum.value % 100 === 0 ? datum.label : ''", "tickSize": {"condition": {"test": "datum.value % 100 !== 0", "value": 5}, "value": 10}, "labelPadding": 10, "titlePadding": 8}},
                "y": {"field": "v", "type": "quantitative", "scale": {"domain": [0, 16], "nice": false, "zero": false}, "axis": {"orient": "right", "title": "N₂ Signal (MS * 10¹⁰)", "values": [0, 1.15, 2.3, 3.45, 4.6, 5.75, 6.9, 8.05, 9.2, 10.35, 11.5, 12.65, 13.8, 14.95], "labelExpr": "abs(datum.value/2.3 - round(datum.value/2.3)) < 0.01 ? replace(format(datum.value, '.1f'), '.', ',') : ''", "tickSize": {"condition": {"test": "abs(datum.value/2.3 - round(datum.value/2.3)) > 0.1", "value": -5}, "value": -10}, "labelPadding": 26, "titlePadding": 12, "titleAngle": 270, "titleBaseline": "top"}},
                "color": {"field": "s", "type": "nominal"}
              }
            },
            {
              "data": {"name": "botN2"},
              "transform": [{"calculate": "'N₂ (MS)'", "as": "s"}],
              "mark": {"type": "point", "filled": false, "size": 125, "strokeWidth": 1.1, "opacity": 1, "strokeDash": [3, 2]},
              "encoding": {
                "x": {"field": "T", "type": "quantitative", "scale": {"domain": [50, 530], "nice": false, "zero": false}, "axis": {"title": "Inlet temperature / °C", "values": [50, 100, 150, 200, 250, 300, 350, 400, 450, 500], "labelExpr": "datum.value % 100 === 0 ? datum.label : ''", "tickSize": {"condition": {"test": "datum.value % 100 !== 0", "value": 5}, "value": 10}, "labelPadding": 10, "titlePadding": 8}},
                "y": {"field": "v", "type": "quantitative", "scale": {"domain": [0, 16], "nice": false, "zero": false}, "axis": {"orient": "right", "title": "N₂ Signal (MS * 10¹⁰)", "values": [0, 1.15, 2.3, 3.45, 4.6, 5.75, 6.9, 8.05, 9.2, 10.35, 11.5, 12.65, 13.8, 14.95], "labelExpr": "abs(datum.value/2.3 - round(datum.value/2.3)) < 0.01 ? replace(format(datum.value, '.1f'), '.', ',') : ''", "tickSize": {"condition": {"test": "abs(datum.value/2.3 - round(datum.value/2.3)) > 0.1", "value": -5}, "value": -10}, "labelPadding": 26, "titlePadding": 12, "titleAngle": 270, "titleBaseline": "top"}},
                "color": {"field": "s", "type": "nominal"}
              }
            },
            {
              "data": {"values": [{"T": 105.4, "v": 10.29}, {"T": 134, "v": 10.29}]},
              "mark": {"type": "line", "strokeWidth": 1.5, "color": "#22cc22"},
              "encoding": {
                "x": {"field": "T", "type": "quantitative", "scale": {"domain": [50, 530], "nice": false, "zero": false}, "axis": {"title": "Inlet temperature / °C", "values": [50, 100, 150, 200, 250, 300, 350, 400, 450, 500], "labelExpr": "datum.value % 100 === 0 ? datum.label : ''", "tickSize": {"condition": {"test": "datum.value % 100 !== 0", "value": 5}, "value": 10}, "labelPadding": 10, "titlePadding": 8}},
                "y": {"field": "v", "type": "quantitative", "scale": {"domain": [0, 16], "nice": false, "zero": false}, "axis": {"orient": "right", "title": "N₂ Signal (MS * 10¹⁰)", "values": [0, 1.15, 2.3, 3.45, 4.6, 5.75, 6.9, 8.05, 9.2, 10.35, 11.5, 12.65, 13.8, 14.95], "labelExpr": "abs(datum.value/2.3 - round(datum.value/2.3)) < 0.01 ? replace(format(datum.value, '.1f'), '.', ',') : ''", "tickSize": {"condition": {"test": "abs(datum.value/2.3 - round(datum.value/2.3)) > 0.1", "value": -5}, "value": -10}, "labelPadding": 26, "titlePadding": 12, "titleAngle": 270, "titleBaseline": "top"}}
              }
            },
            {
              "data": {"values": [{"T": 135.5, "v": 10.29}]},
              "mark": {"type": "point", "shape": "M-1,-0.45L1,0L-1,0.45Z", "filled": true, "size": 225, "color": "#22cc22", "opacity": 1},
              "encoding": {
                "x": {"field": "T", "type": "quantitative", "scale": {"domain": [50, 530], "nice": false, "zero": false}, "axis": {"title": "Inlet temperature / °C", "values": [50, 100, 150, 200, 250, 300, 350, 400, 450, 500], "labelExpr": "datum.value % 100 === 0 ? datum.label : ''", "tickSize": {"condition": {"test": "datum.value % 100 !== 0", "value": 5}, "value": 10}, "labelPadding": 10, "titlePadding": 8}},
                "y": {"field": "v", "type": "quantitative", "scale": {"domain": [0, 16], "nice": false, "zero": false}, "axis": {"orient": "right", "title": "N₂ Signal (MS * 10¹⁰)", "values": [0, 1.15, 2.3, 3.45, 4.6, 5.75, 6.9, 8.05, 9.2, 10.35, 11.5, 12.65, 13.8, 14.95], "labelExpr": "abs(datum.value/2.3 - round(datum.value/2.3)) < 0.01 ? replace(format(datum.value, '.1f'), '.', ',') : ''", "tickSize": {"condition": {"test": "abs(datum.value/2.3 - round(datum.value/2.3)) > 0.1", "value": -5}, "value": -10}, "labelPadding": 26, "titlePadding": 12, "titleAngle": 270, "titleBaseline": "top"}}
              }
            }
          ]
        }
      ],
      "resolve": {"scale": {"y": "independent"}}
    }
  ]
}
